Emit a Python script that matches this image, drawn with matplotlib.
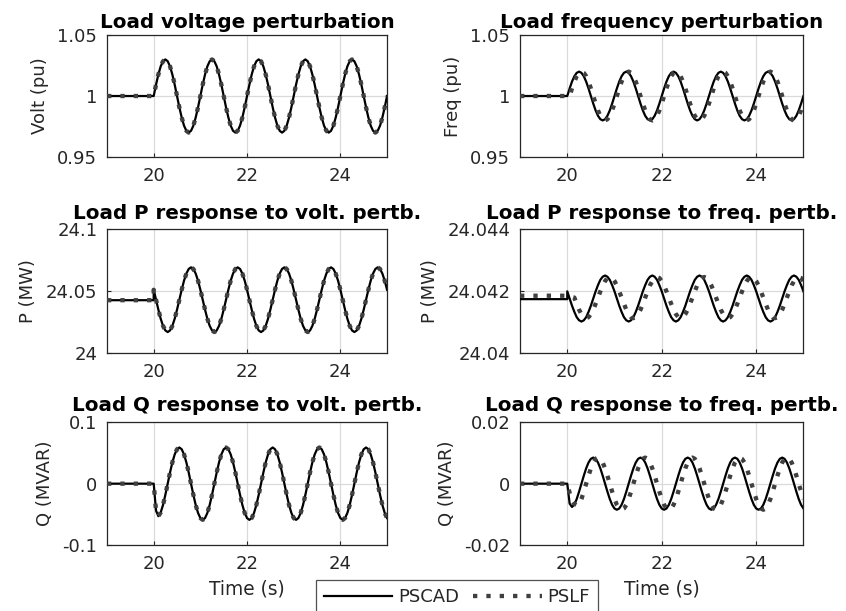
import numpy as np
import matplotlib
matplotlib.use("Agg")
import matplotlib.pyplot as plt
from matplotlib.lines import Line2D

# ---------------- data ----------------
# time grid (s): pre-disturbance segment and oscillation samples every 0.05 s
t_pre = [19.0, 20.0]
t_osc = np.round(20.0 + 0.05 * np.arange(101), 2)

volt_base = 1.0
volt_pscad = [
    1.0000, 1.0093, 1.0176, 1.0243, 1.0285, 1.0300, 1.0285, 1.0243, 1.0176, 1.0093, 1.0000, 0.9907, 0.9824, 0.9757, 0.9715, 0.9700, 0.9715, 0.9757, 0.9824, 0.9907,
    1.0000, 1.0093, 1.0176, 1.0243, 1.0285, 1.0300, 1.0285, 1.0243, 1.0176, 1.0093, 1.0000, 0.9907, 0.9824, 0.9757, 0.9715, 0.9700, 0.9715, 0.9757, 0.9824, 0.9907,
    1.0000, 1.0093, 1.0176, 1.0243, 1.0285, 1.0300, 1.0285, 1.0243, 1.0176, 1.0093, 1.0000, 0.9907, 0.9824, 0.9757, 0.9715, 0.9700, 0.9715, 0.9757, 0.9824, 0.9907,
    1.0000, 1.0093, 1.0176, 1.0243, 1.0285, 1.0300, 1.0285, 1.0243, 1.0176, 1.0093, 1.0000, 0.9907, 0.9824, 0.9757, 0.9715, 0.9700, 0.9715, 0.9757, 0.9824, 0.9907,
    1.0000, 1.0093, 1.0176, 1.0243, 1.0285, 1.0300, 1.0285, 1.0243, 1.0176, 1.0093, 1.0000, 0.9907, 0.9824, 0.9757, 0.9715, 0.9700, 0.9715, 0.9757, 0.9824, 0.9907,
    1.0000]
volt_pslf = [
    1.0000, 1.0093, 1.0176, 1.0243, 1.0285, 1.0300, 1.0285, 1.0243, 1.0176, 1.0093, 1.0000, 0.9907, 0.9824, 0.9757, 0.9715, 0.9700, 0.9715, 0.9757, 0.9824, 0.9907,
    1.0000, 1.0093, 1.0176, 1.0243, 1.0285, 1.0300, 1.0285, 1.0243, 1.0176, 1.0093, 1.0000, 0.9907, 0.9824, 0.9757, 0.9715, 0.9700, 0.9715, 0.9757, 0.9824, 0.9907,
    1.0000, 1.0093, 1.0176, 1.0243, 1.0285, 1.0300, 1.0285, 1.0243, 1.0176, 1.0093, 1.0000, 0.9907, 0.9824, 0.9757, 0.9715, 0.9700, 0.9715, 0.9757, 0.9824, 0.9907,
    1.0000, 1.0093, 1.0176, 1.0243, 1.0285, 1.0300, 1.0285, 1.0243, 1.0176, 1.0093, 1.0000, 0.9907, 0.9824, 0.9757, 0.9715, 0.9700, 0.9715, 0.9757, 0.9824, 0.9907,
    1.0000, 1.0093, 1.0176, 1.0243, 1.0285, 1.0300, 1.0285, 1.0243, 1.0176, 1.0093, 1.0000, 0.9907, 0.9824, 0.9757, 0.9715, 0.9700, 0.9715, 0.9757, 0.9824, 0.9907,
    1.0000]

freq_base = 1.0
freq_pscad = [
    1.0000, 1.0062, 1.0118, 1.0162, 1.0190, 1.0200, 1.0190, 1.0162, 1.0118, 1.0062, 1.0000, 0.9938, 0.9882, 0.9838, 0.9810, 0.9800, 0.9810, 0.9838, 0.9882, 0.9938,
    1.0000, 1.0062, 1.0118, 1.0162, 1.0190, 1.0200, 1.0190, 1.0162, 1.0118, 1.0062, 1.0000, 0.9938, 0.9882, 0.9838, 0.9810, 0.9800, 0.9810, 0.9838, 0.9882, 0.9938,
    1.0000, 1.0062, 1.0118, 1.0162, 1.0190, 1.0200, 1.0190, 1.0162, 1.0118, 1.0062, 1.0000, 0.9938, 0.9882, 0.9838, 0.9810, 0.9800, 0.9810, 0.9838, 0.9882, 0.9938,
    1.0000, 1.0062, 1.0118, 1.0162, 1.0190, 1.0200, 1.0190, 1.0162, 1.0118, 1.0062, 1.0000, 0.9938, 0.9882, 0.9838, 0.9810, 0.9800, 0.9810, 0.9838, 0.9882, 0.9938,
    1.0000, 1.0062, 1.0118, 1.0162, 1.0190, 1.0200, 1.0190, 1.0162, 1.0118, 1.0062, 1.0000, 0.9938, 0.9882, 0.9838, 0.9810, 0.9800, 0.9810, 0.9838, 0.9882, 0.9938,
    1.0000]
freq_pslf = [
    1.0000,
    1.0000, 1.0062, 1.0118, 1.0162, 1.0190, 1.0200, 1.0190, 1.0162, 1.0118, 1.0062, 1.0000, 0.9938, 0.9882, 0.9838, 0.9810, 0.9800, 0.9810, 0.9838, 0.9882, 0.9938,
    1.0000, 1.0062, 1.0118, 1.0162, 1.0190, 1.0200, 1.0190, 1.0162, 1.0118, 1.0062, 1.0000, 0.9938, 0.9882, 0.9838, 0.9810, 0.9800, 0.9810, 0.9838, 0.9882, 0.9938,
    1.0000, 1.0062, 1.0118, 1.0162, 1.0190, 1.0200, 1.0190, 1.0162, 1.0118, 1.0062, 1.0000, 0.9938, 0.9882, 0.9838, 0.9810, 0.9800, 0.9810, 0.9838, 0.9882, 0.9938,
    1.0000, 1.0062, 1.0118, 1.0162, 1.0190, 1.0200, 1.0190, 1.0162, 1.0118, 1.0062, 1.0000, 0.9938, 0.9882, 0.9838, 0.9810, 0.9800, 0.9810, 0.9838, 0.9882, 0.9938,
    1.0000, 1.0062, 1.0118, 1.0162, 1.0190, 1.0200, 1.0190, 1.0162, 1.0118, 1.0062, 1.0000, 0.9938, 0.9882, 0.9838, 0.9810, 0.9800, 0.9810, 0.9838, 0.9882, 0.9938]

pv_base = 24.0424
pv_pscad = [
    24.0508, 24.0428, 24.0348, 24.0275, 24.0218, 24.0181, 24.0168, 24.0181, 24.0218, 24.0275, 24.0348, 24.0428, 24.0508, 24.0581, 24.0638, 24.0675, 24.0688, 24.0675, 24.0638, 24.0581,
    24.0508, 24.0428, 24.0348, 24.0275, 24.0218, 24.0181, 24.0168, 24.0181, 24.0218, 24.0275, 24.0348, 24.0428, 24.0508, 24.0581, 24.0638, 24.0675, 24.0688, 24.0675, 24.0638, 24.0581,
    24.0508, 24.0428, 24.0348, 24.0275, 24.0218, 24.0181, 24.0168, 24.0181, 24.0218, 24.0275, 24.0348, 24.0428, 24.0508, 24.0581, 24.0638, 24.0675, 24.0688, 24.0675, 24.0638, 24.0581,
    24.0508, 24.0428, 24.0348, 24.0275, 24.0218, 24.0181, 24.0168, 24.0181, 24.0218, 24.0275, 24.0348, 24.0428, 24.0508, 24.0581, 24.0638, 24.0675, 24.0688, 24.0675, 24.0638, 24.0581,
    24.0508, 24.0428, 24.0348, 24.0275, 24.0218, 24.0181, 24.0168, 24.0181, 24.0218, 24.0275, 24.0348, 24.0428, 24.0508, 24.0581, 24.0638, 24.0675, 24.0688, 24.0675, 24.0638, 24.0581,
    24.0508]
pv_pslf = [
    24.0508, 24.0428, 24.0348, 24.0275, 24.0218, 24.0181, 24.0168, 24.0181, 24.0218, 24.0275, 24.0348, 24.0428, 24.0508, 24.0581, 24.0638, 24.0675, 24.0688, 24.0675, 24.0638, 24.0581,
    24.0508, 24.0428, 24.0348, 24.0275, 24.0218, 24.0181, 24.0168, 24.0181, 24.0218, 24.0275, 24.0348, 24.0428, 24.0508, 24.0581, 24.0638, 24.0675, 24.0688, 24.0675, 24.0638, 24.0581,
    24.0508, 24.0428, 24.0348, 24.0275, 24.0218, 24.0181, 24.0168, 24.0181, 24.0218, 24.0275, 24.0348, 24.0428, 24.0508, 24.0581, 24.0638, 24.0675, 24.0688, 24.0675, 24.0638, 24.0581,
    24.0508, 24.0428, 24.0348, 24.0275, 24.0218, 24.0181, 24.0168, 24.0181, 24.0218, 24.0275, 24.0348, 24.0428, 24.0508, 24.0581, 24.0638, 24.0675, 24.0688, 24.0675, 24.0638, 24.0581,
    24.0508, 24.0428, 24.0348, 24.0275, 24.0218, 24.0181, 24.0168, 24.0181, 24.0218, 24.0275, 24.0348, 24.0428, 24.0508, 24.0581, 24.0638, 24.0675, 24.0688, 24.0675, 24.0638, 24.0581,
    24.0508]

pf_base_pscad = 24.04173
pf_base_pslf = 24.04184
pf_pscad = [
    24.04198, 24.04175, 24.04152, 24.04132, 24.04115, 24.04105, 24.04101, 24.04105, 24.04115, 24.04132, 24.04152, 24.04175, 24.04198, 24.04218, 24.04235, 24.04245, 24.04249, 24.04245, 24.04235, 24.04218,
    24.04198, 24.04175, 24.04152, 24.04132, 24.04115, 24.04105, 24.04101, 24.04105, 24.04115, 24.04132, 24.04152, 24.04175, 24.04198, 24.04218, 24.04235, 24.04245, 24.04249, 24.04245, 24.04235, 24.04218,
    24.04198, 24.04175, 24.04152, 24.04132, 24.04115, 24.04105, 24.04101, 24.04105, 24.04115, 24.04132, 24.04152, 24.04175, 24.04198, 24.04218, 24.04235, 24.04245, 24.04249, 24.04245, 24.04235, 24.04218,
    24.04198, 24.04175, 24.04152, 24.04132, 24.04115, 24.04105, 24.04101, 24.04105, 24.04115, 24.04132, 24.04152, 24.04175, 24.04198, 24.04218, 24.04235, 24.04245, 24.04249, 24.04245, 24.04235, 24.04218,
    24.04198, 24.04175, 24.04152, 24.04132, 24.04115, 24.04105, 24.04101, 24.04105, 24.04115, 24.04132, 24.04152, 24.04175, 24.04198, 24.04218, 24.04235, 24.04245, 24.04249, 24.04245, 24.04235, 24.04218,
    24.04198]
pf_pslf = [
    24.04184, 24.04182, 24.04180,
    24.04178, 24.04158, 24.04139, 24.04125, 24.04115, 24.04112, 24.04115, 24.04125, 24.04139, 24.04158, 24.04178, 24.04198, 24.04217, 24.04231, 24.04241, 24.04244, 24.04241, 24.04231, 24.04217, 24.04198,
    24.04178, 24.04158, 24.04139, 24.04125, 24.04115, 24.04112, 24.04115, 24.04125, 24.04139, 24.04158, 24.04178, 24.04198, 24.04217, 24.04231, 24.04241, 24.04244, 24.04241, 24.04231, 24.04217, 24.04198,
    24.04178, 24.04158, 24.04139, 24.04125, 24.04115, 24.04112, 24.04115, 24.04125, 24.04139, 24.04158, 24.04178, 24.04198, 24.04217, 24.04231, 24.04241, 24.04244, 24.04241, 24.04231, 24.04217, 24.04198,
    24.04178, 24.04158, 24.04139, 24.04125, 24.04115, 24.04112, 24.04115, 24.04125, 24.04139, 24.04158, 24.04178, 24.04198, 24.04217, 24.04231, 24.04241, 24.04244, 24.04241, 24.04231, 24.04217, 24.04198,
    24.04178, 24.04158, 24.04139, 24.04125, 24.04115, 24.04112, 24.04115, 24.04125, 24.04139, 24.04158, 24.04178, 24.04198, 24.04217, 24.04231, 24.04241, 24.04244, 24.04241, 24.04231]

qv_base = 0.0
qv_pscad = [
    0.0000, -0.0440, -0.0530, -0.0470,
    -0.0347, -0.0182, 0.0000, 0.0182, 0.0347, 0.0477, 0.0561, 0.0590, 0.0561, 0.0477, 0.0347, 0.0182, 0.0000, -0.0182, -0.0347, -0.0477, -0.0561,
    -0.0590, -0.0561, -0.0477, -0.0347, -0.0182, 0.0000, 0.0182, 0.0347, 0.0477, 0.0561, 0.0590, 0.0561, 0.0477, 0.0347, 0.0182, 0.0000, -0.0182, -0.0347, -0.0477, -0.0561,
    -0.0590, -0.0561, -0.0477, -0.0347, -0.0182, 0.0000, 0.0182, 0.0347, 0.0477, 0.0561, 0.0590, 0.0561, 0.0477, 0.0347, 0.0182, 0.0000, -0.0182, -0.0347, -0.0477, -0.0561,
    -0.0590, -0.0561, -0.0477, -0.0347, -0.0182, 0.0000, 0.0182, 0.0347, 0.0477, 0.0561, 0.0590, 0.0561, 0.0477, 0.0347, 0.0182, 0.0000, -0.0182, -0.0347, -0.0477, -0.0561,
    -0.0590, -0.0561, -0.0477, -0.0347, -0.0182, 0.0000, 0.0182, 0.0347, 0.0477, 0.0561, 0.0590, 0.0561, 0.0477, 0.0347, 0.0182, 0.0000, -0.0182, -0.0347, -0.0477, -0.0561]
qv_pslf = [
    0.0000, -0.0440, -0.0530, -0.0470,
    -0.0347, -0.0182, 0.0000, 0.0182, 0.0347, 0.0477, 0.0561, 0.0590, 0.0561, 0.0477, 0.0347, 0.0182, 0.0000, -0.0182, -0.0347, -0.0477, -0.0561,
    -0.0590, -0.0561, -0.0477, -0.0347, -0.0182, 0.0000, 0.0182, 0.0347, 0.0477, 0.0561, 0.0590, 0.0561, 0.0477, 0.0347, 0.0182, 0.0000, -0.0182, -0.0347, -0.0477, -0.0561,
    -0.0590, -0.0561, -0.0477, -0.0347, -0.0182, 0.0000, 0.0182, 0.0347, 0.0477, 0.0561, 0.0590, 0.0561, 0.0477, 0.0347, 0.0182, 0.0000, -0.0182, -0.0347, -0.0477, -0.0561,
    -0.0590, -0.0561, -0.0477, -0.0347, -0.0182, 0.0000, 0.0182, 0.0347, 0.0477, 0.0561, 0.0590, 0.0561, 0.0477, 0.0347, 0.0182, 0.0000, -0.0182, -0.0347, -0.0477, -0.0561,
    -0.0590, -0.0561, -0.0477, -0.0347, -0.0182, 0.0000, 0.0182, 0.0347, 0.0477, 0.0561, 0.0590, 0.0561, 0.0477, 0.0347, 0.0182, 0.0000, -0.0182, -0.0347, -0.0477, -0.0561]

qf_base = 0.0
qf_pscad = [
    0.0000, -0.0065, -0.0076, -0.0068,
    -0.0050, -0.0026, 0.0000, 0.0026, 0.0050, 0.0069, 0.0081, 0.0085, 0.0081, 0.0069, 0.0050, 0.0026, 0.0000, -0.0026, -0.0050, -0.0069, -0.0081,
    -0.0085, -0.0081, -0.0069, -0.0050, -0.0026, 0.0000, 0.0026, 0.0050, 0.0069, 0.0081, 0.0085, 0.0081, 0.0069, 0.0050, 0.0026, 0.0000, -0.0026, -0.0050, -0.0069, -0.0081,
    -0.0085, -0.0081, -0.0069, -0.0050, -0.0026, 0.0000, 0.0026, 0.0050, 0.0069, 0.0081, 0.0085, 0.0081, 0.0069, 0.0050, 0.0026, 0.0000, -0.0026, -0.0050, -0.0069, -0.0081,
    -0.0085, -0.0081, -0.0069, -0.0050, -0.0026, 0.0000, 0.0026, 0.0050, 0.0069, 0.0081, 0.0085, 0.0081, 0.0069, 0.0050, 0.0026, 0.0000, -0.0026, -0.0050, -0.0069, -0.0081,
    -0.0085, -0.0081, -0.0069, -0.0050, -0.0026, 0.0000, 0.0026, 0.0050, 0.0069, 0.0081, 0.0085, 0.0081, 0.0069, 0.0050, 0.0026, 0.0000, -0.0026, -0.0050, -0.0069, -0.0081]
qf_pslf = [
    0.0000, -0.0030, -0.0055, -0.0066, -0.0070,
    -0.0069, -0.0050, -0.0026, 0.0000, 0.0026, 0.0050, 0.0069, 0.0081, 0.0085, 0.0081, 0.0069, 0.0050, 0.0026, 0.0000, -0.0026, -0.0050, -0.0069, -0.0081,
    -0.0085, -0.0081, -0.0069, -0.0050, -0.0026, 0.0000, 0.0026, 0.0050, 0.0069, 0.0081, 0.0085, 0.0081, 0.0069, 0.0050, 0.0026, 0.0000, -0.0026, -0.0050, -0.0069, -0.0081,
    -0.0085, -0.0081, -0.0069, -0.0050, -0.0026, 0.0000, 0.0026, 0.0050, 0.0069, 0.0081, 0.0085, 0.0081, 0.0069, 0.0050, 0.0026, 0.0000, -0.0026, -0.0050, -0.0069, -0.0081,
    -0.0085, -0.0081, -0.0069, -0.0050, -0.0026, 0.0000, 0.0026, 0.0050, 0.0069, 0.0081, 0.0085, 0.0081, 0.0069, 0.0050, 0.0026, 0.0000, -0.0026, -0.0050, -0.0069, -0.0081,
    -0.0085, -0.0081, -0.0069, -0.0050, -0.0026, 0.0000, 0.0026, 0.0050, 0.0069, 0.0081, 0.0085, 0.0081, 0.0069, 0.0050, 0.0026, 0.0000, -0.0026, -0.0050]

titles = ["Load voltage perturbation", "Load frequency perturbation",
          "Load P response to volt. pertb.", "Load P response to freq. pertb.",
          "Load Q response to volt. pertb.", "Load Q response to freq. pertb."]
ylabels = ["Volt (pu)", "Freq (pu)", "P (MW)", "P (MW)", "Q (MVAR)", "Q (MVAR)"]
yticks = [[0.95, 1.0, 1.05], [0.95, 1.0, 1.05], [24.0, 24.05, 24.1],
          [24.04, 24.042, 24.044], [-0.1, 0.0, 0.1], [-0.02, 0.0, 0.02]]
yticklabels = [["0.95", "1", "1.05"], ["0.95", "1", "1.05"], ["24", "24.05", "24.1"],
               ["24.04", "24.042", "24.044"], ["-0.1", "0", "0.1"], ["-0.02", "0", "0.02"]]
xticks = [20, 22, 24]
xticklabels = ["20", "22", "24"]
xlim = (19, 25)
series_names = ["PSCAD", "PSLF"]

panels = [
    ((volt_base, volt_pscad), (volt_base, volt_pslf)),
    ((freq_base, freq_pscad), (freq_base, freq_pslf)),
    ((pv_base, pv_pscad), (pv_base, pv_pslf)),
    ((pf_base_pscad, pf_pscad), (pf_base_pslf, pf_pslf)),
    ((qv_base, qv_pscad), (qv_base, qv_pslf)),
    ((qf_base, qf_pscad), (qf_base, qf_pslf)),
]

# ---------------- figure ----------------
plt.rcParams['font.family'] = ['DejaVu Sans']
fig = plt.figure(figsize=(8.46, 6.11), dpi=100)

lefts = [0.1265, 0.6147]
widths = [0.331, 0.335]
bottoms = [0.743, 0.4223, 0.108]
heights = [0.1997, 0.2037, 0.2008]
title_pads = [5, 7, 8]

txt_col = '#262626'
pslf_col = '#404040'
pslf_lw = 3.1
pslf_ls = (0, (1.0, 2.1))


def series_xy(base, vals):
    n = min(len(vals), len(t_osc))
    x = np.concatenate([t_pre, t_osc[:n]])
    y = np.concatenate([[base, base], np.asarray(vals[:n], dtype=float)])
    return x, y


for i, ((b1, y1), (b2, y2)) in enumerate(panels):
    r, c = divmod(i, 2)
    ax = fig.add_axes([lefts[c], bottoms[r], widths[c], heights[r]])
    x, y = series_xy(b1, y1)
    ax.plot(x, y, color='black', lw=1.6, solid_joinstyle='round', zorder=3)
    x, y = series_xy(b2, y2)
    ax.plot(x, y, color=pslf_col, lw=pslf_lw, linestyle=pslf_ls,
            dash_capstyle='butt', zorder=4)
    ax.set_xlim(*xlim)
    ax.set_ylim(yticks[i][0], yticks[i][-1])
    ax.set_xticks(xticks)
    ax.set_xticklabels(xticklabels)
    ax.set_yticks(yticks[i])
    ax.set_yticklabels(yticklabels[i])
    ax.grid(True, color='#dadada', lw=0.9)
    ax.set_axisbelow(True)
    ax.tick_params(direction='in', length=3, width=0.8, colors=txt_col,
                   labelsize=13, pad=7)
    for s in ax.spines.values():
        s.set_color(txt_col)
        s.set_linewidth(0.9)
    ax.set_title(titles[i], fontsize=14.3, fontweight='bold', color='black',
                 pad=title_pads[r])
    ax.set_ylabel(ylabels[i], fontsize=13, color=txt_col, labelpad=6)
    if r == 2:
        ax.set_xlabel("Time (s)", fontsize=13.4, color=txt_col, labelpad=5)

handles = [Line2D([], [], color='black', lw=1.6),
           Line2D([], [], color=pslf_col, lw=pslf_lw, linestyle=pslf_ls)]
leg = fig.legend(handles, series_names, loc='lower center',
                 bbox_to_anchor=(0.540, -0.02), ncol=2, fontsize=13,
                 frameon=True, fancybox=False, edgecolor=txt_col,
                 handlelength=3.8, handletextpad=0.3, columnspacing=0.8,
                 borderpad=0.45)
leg.get_frame().set_linewidth(0.9)
for tx in leg.get_texts():
    tx.set_color(txt_col)

fig.savefig("out.png", dpi=100)
